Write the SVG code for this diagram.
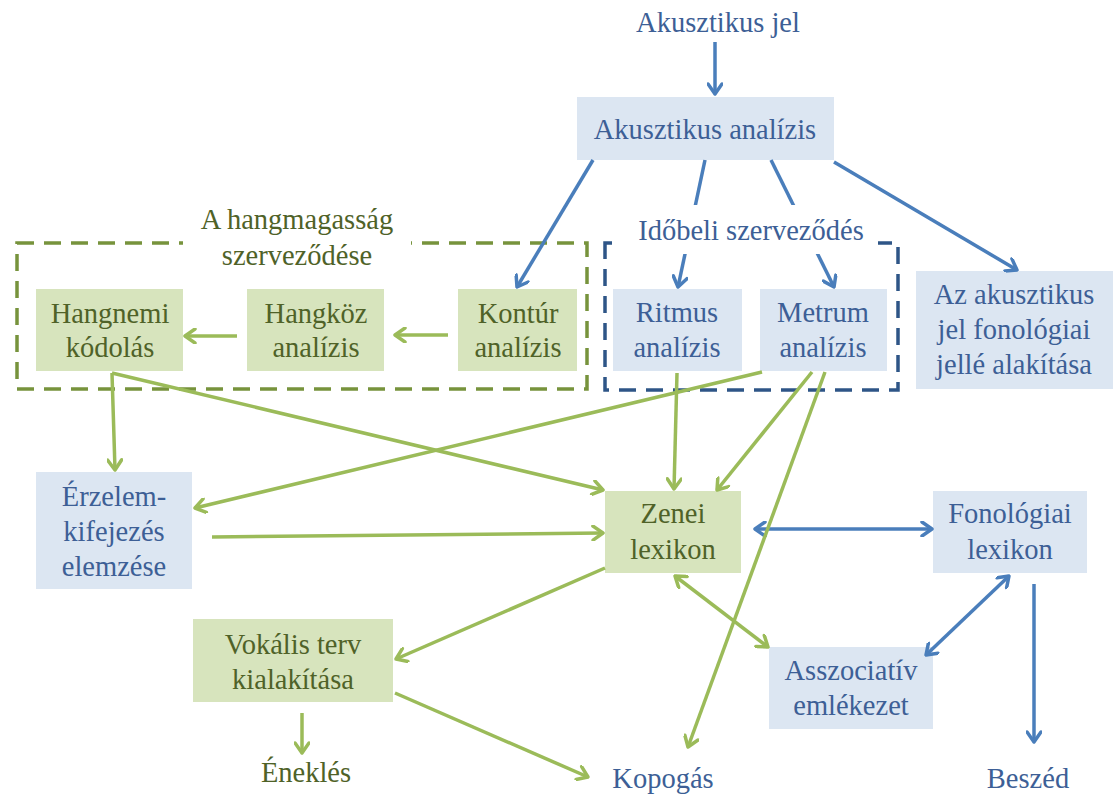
<svg xmlns="http://www.w3.org/2000/svg" width="1115" height="795" viewBox="0 0 1115 795" font-family="Liberation Serif, Times New Roman, Noto Serif, DejaVu Serif, serif">
<style>
text{font-size:28.5px;text-anchor:middle}
.tb{fill:#3D5F96}
.tg{fill:#4F6228}
.bb{fill:#DCE6F2}
.bg{fill:#D7E4BD}
.cb{stroke:#4A7EBB;stroke-width:3.5;fill:none}
.cg{stroke:#9BBB59;stroke-width:3.5;fill:none}
.ab{marker-end:url(#hb)}
.ag{marker-end:url(#hg)}
.db{marker-start:url(#hb);marker-end:url(#hb)}
.dg{marker-start:url(#hg);marker-end:url(#hg)}
.dash{fill:none;stroke-width:3.5;stroke-dasharray:17 10}
</style>
<defs>
<marker id="hb" viewBox="0 0 16 16" refX="14" refY="8" markerWidth="16" markerHeight="16" markerUnits="userSpaceOnUse" orient="auto-start-reverse">
<path d="M4,1 L14,8 L4,15" fill="none" stroke="#4A7EBB" stroke-width="3.5" stroke-linecap="round" stroke-linejoin="round"/>
</marker>
<marker id="hg" viewBox="0 0 16 16" refX="14" refY="8" markerWidth="16" markerHeight="16" markerUnits="userSpaceOnUse" orient="auto-start-reverse">
<path d="M4,1 L14,8 L4,15" fill="none" stroke="#9BBB59" stroke-width="3.5" stroke-linecap="round" stroke-linejoin="round"/>
</marker>
</defs>
<rect width="1115" height="795" fill="#FFFFFF"/>

<g id="grp-pitch"><rect class="dash" x="17" y="243" width="570" height="146" stroke="#77933C"/></g>
<g id="grp-time"><rect class="dash" x="605" y="243" width="293" height="147" stroke="#2E5587"/></g>

<g id="n-akjel"><text class="tb" x="718" y="32">Akusztikus jel</text></g>
<g id="n-akanal"><rect class="bb" x="577" y="97" width="257" height="63"/><text class="tb" x="705" y="139">Akusztikus analízis</text></g>
<g id="n-hangnemi"><rect class="bg" x="36" y="289" width="147" height="82"/><text class="tg" x="110" y="323">Hangnemi</text><text class="tg" x="110" y="357">kódolás</text></g>
<g id="n-hangkoz"><rect class="bg" x="247" y="289" width="137" height="82"/><text class="tg" x="316" y="323">Hangköz</text><text class="tg" x="316" y="357">analízis</text></g>
<g id="n-kontur"><rect class="bg" x="458" y="289" width="119" height="82"/><text class="tg" x="518" y="323">Kontúr</text><text class="tg" x="518" y="357">analízis</text></g>
<g id="n-ritmus"><rect class="bb" x="613" y="289" width="129" height="82"/><text class="tb" x="677" y="322">Ritmus</text><text class="tb" x="677" y="357">analízis</text></g>
<g id="n-metrum"><rect class="bb" x="760" y="289" width="127" height="82"/><text class="tb" x="823" y="322">Metrum</text><text class="tb" x="823" y="357">analízis</text></g>
<g id="n-fonjel"><rect class="bb" x="916" y="271" width="197" height="118"/><text class="tb" x="1014" y="304">Az akusztikus</text><text class="tb" x="1014" y="339">jel fonológiai</text><text class="tb" x="1014" y="374">jellé alakítása</text></g>
<g id="n-erzelem"><rect class="bb" x="36" y="472" width="156" height="117"/><text class="tb" x="114" y="506">Érzelem-</text><text class="tb" x="114" y="541">kifejezés</text><text class="tb" x="114" y="576">elemzése</text></g>
<g id="n-zenei"><rect class="bg" x="605" y="491" width="136" height="82"/><text class="tg" x="673" y="523">Zenei</text><text class="tg" x="673" y="559">lexikon</text></g>
<g id="n-fonlex"><rect class="bb" x="933" y="491" width="154" height="82"/><text class="tb" x="1010" y="523">Fonológiai</text><text class="tb" x="1010" y="559">lexikon</text></g>
<g id="n-vokalis"><rect class="bg" x="193" y="619" width="200" height="83"/><text class="tg" x="293" y="654">Vokális terv</text><text class="tg" x="293" y="689">kialakítása</text></g>
<g id="n-asszoc"><rect class="bb" x="769" y="647" width="164" height="82"/><text class="tb" x="851" y="680">Asszociatív</text><text class="tb" x="851" y="715">emlékezet</text></g>
<g id="n-enekles"><text class="tg" x="306" y="782">Éneklés</text></g>
<g id="n-kopogas"><text class="tb" x="663" y="788">Kopogás</text></g>
<g id="n-beszed"><text class="tb" x="1028" y="788">Beszéd</text></g>

<g id="connectors">
<line class="cb ab" x1="715" y1="42" x2="715" y2="94"/>
<line class="cb ab" x1="593" y1="160" x2="517" y2="287"/>
<line class="cb ab" x1="705" y1="160" x2="678" y2="287"/>
<line class="cb ab" x1="771" y1="160" x2="834" y2="287"/>
<line class="cb ab" x1="834" y1="162" x2="1017" y2="270"/>
<line class="cb db" x1="755" y1="529" x2="932" y2="529"/>
<line class="cb db" x1="1009" y1="576" x2="926" y2="655"/>
<line class="cb ab" x1="1034" y1="584" x2="1034" y2="742"/>
<line class="cg ag" x1="448" y1="335" x2="395" y2="335"/>
<line class="cg ag" x1="237" y1="336" x2="185" y2="336"/>
<line class="cg ag" x1="112" y1="373" x2="115" y2="470"/>
<line class="cg ag" x1="112" y1="373" x2="603" y2="490"/>
<line class="cg ag" x1="762" y1="372" x2="195" y2="508"/>
<line class="cg ag" x1="212" y1="537" x2="603" y2="533"/>
<line class="cg ag" x1="677" y1="373" x2="674" y2="489"/>
<line class="cg ag" x1="812" y1="372" x2="717" y2="490"/>
<line class="cg ag" x1="825" y1="372" x2="688" y2="747"/>
<line class="cg ag" x1="605" y1="568" x2="396" y2="659"/>
<line class="cg dg" x1="675" y1="576" x2="768" y2="647"/>
<line class="cg ag" x1="302" y1="713" x2="302" y2="753"/>
<line class="cg ag" x1="395" y1="693" x2="588" y2="777"/>
</g>

<g id="title-pitch"><rect x="183" y="205" width="228" height="68" fill="#FFFFFF"/>
<text class="tg" x="297" y="229">A hangmagasság</text><text class="tg" x="297" y="265">szerveződése</text></g>
<g id="title-time"><rect x="612" y="205" width="266" height="49" fill="#FFFFFF"/>
<text class="tb" x="751" y="240">Időbeli szerveződés</text></g>
</svg>
